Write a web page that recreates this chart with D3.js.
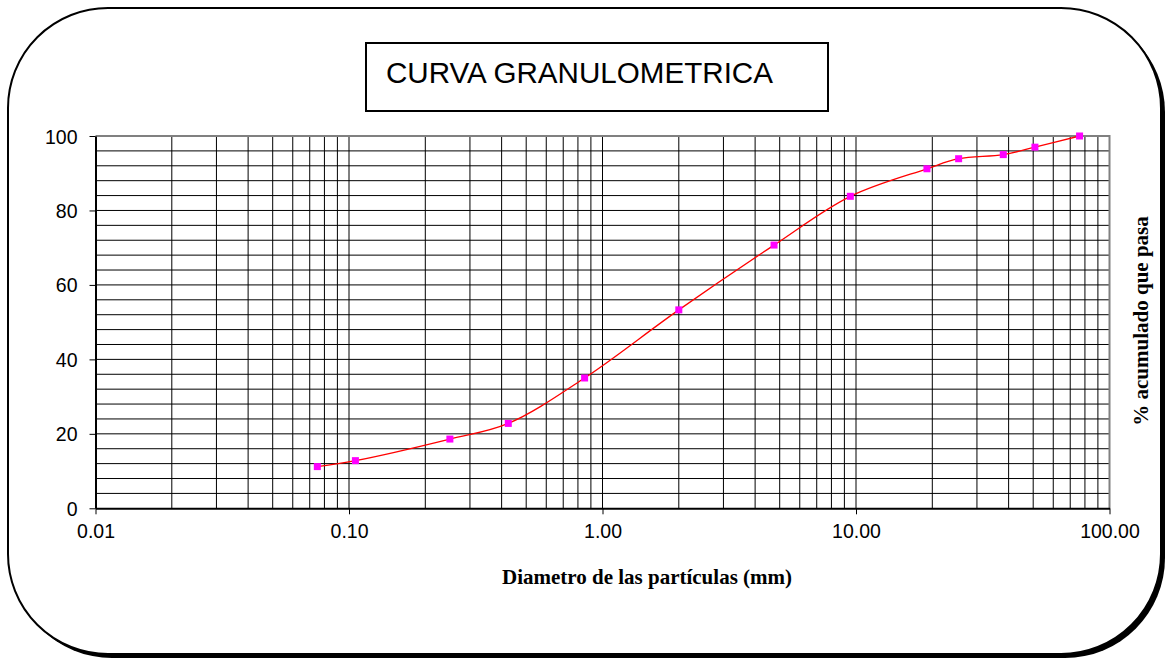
<!DOCTYPE html>
<html>
<head>
<meta charset="utf-8">
<script src="https://cdn.jsdelivr.net/npm/d3@7"></script>
<style>
  html, body { margin: 0; padding: 0; background: #fff; }
  svg { display: block; }
</style>
</head>
<body>
<div id="chart"></div>
<script>
// sieve openings (mm) and cumulative % passing
const sizes = [0.075, 0.106, 0.25, 0.425, 0.85, 2.0, 4.75, 9.5, 19.05, 25.4, 38.1, 50.8, 76.2];
const passing = [11.2, 12.8, 18.6, 22.8, 35.0, 53.3, 70.7, 83.8, 91.2, 93.9, 95.0, 97.0, 100];

const xTicks = [0.01, 0.1, 1, 10, 100];
const yTicks = [0, 20, 40, 60, 80, 100];

const title = "CURVA GRANULOMETRICA";
const xTitle = "Diametro de las partículas (mm)";
const yTitle = "% acumulado que pasa";

const width = 1169;
const height = 662;
const margin = { top: 136, right: 59.5, bottom: 153.7, left: 95.5 };

const svg = d3.select('#chart')
  .append('svg')
  .attr('width', width)
  .attr('height', height);

// rounded frame with shadow
svg.append('rect')
  .attr('x', 12).attr('y', 12)
  .attr('width', 1153).attr('height', 646)
  .attr('rx', 100).attr('ry', 100)
  .attr('fill', '#000');

svg.append('rect')
  .attr('x', 8).attr('y', 8)
  .attr('width', 1153).attr('height', 646)
  .attr('rx', 100).attr('ry', 100)
  .attr('fill', '#fff')
  .attr('stroke', '#000')
  .attr('stroke-width', 2);

const x = d3.scaleLog()
  .domain([0.01, 100])
  .range([margin.left, width - margin.right]);

const y = d3.scaleLinear()
  .domain([0, 100])
  .range([height - margin.bottom, margin.top]);

// gridlines
const vLines = [];
for (let d = 0.01; d < 100; d *= 10) {
  for (let k = 2; k <= 9; k++) vLines.push(+(d * k).toPrecision(3));
}
xTicks.slice(1, -1).forEach(t => vLines.push(t));

svg.append('g')
  .selectAll('line')
  .data(vLines)
  .join('line')
  .attr('x1', d => x(d)).attr('x2', d => x(d))
  .attr('y1', y(0)).attr('y2', y(100))
  .attr('stroke', '#000')
  .attr('stroke-width', 1);

svg.append('g')
  .selectAll('line')
  .data(d3.range(4, 100, 4))
  .join('line')
  .attr('x1', x(0.01)).attr('x2', x(100))
  .attr('y1', d => y(d)).attr('y2', d => y(d))
  .attr('stroke', '#000')
  .attr('stroke-width', 1);

// plot border top / right in gray
svg.append('path')
  .attr('d', `M${x(0.01)},${y(100)}H${x(100)}V${y(0)}`)
  .attr('fill', 'none')
  .attr('stroke', '#808080')
  .attr('stroke-width', 2);

// axes
const xAxis = svg.append('g')
  .attr('transform', `translate(0,${y(0)})`)
  .call(d3.axisBottom(x).tickValues(xTicks).tickFormat(d3.format('.2f')).tickSize(6).tickSizeOuter(0));

const yAxis = svg.append('g')
  .attr('transform', `translate(${x(0.01)},0)`)
  .call(d3.axisLeft(y).tickValues(yTicks).tickSize(6).tickSizeOuter(0));

[xAxis, yAxis].forEach(g => {
  g.select('.domain').attr('stroke', '#000').attr('stroke-width', 2);
  g.selectAll('.tick line').attr('stroke', '#000');
  g.selectAll('.tick text')
    .attr('fill', '#000')
    .style('font-family', 'Arial, "Liberation Sans", sans-serif')
    .style('font-size', '19.5px');
});
xAxis.selectAll('.tick text').attr('dy', '1.08em');
yAxis.selectAll('.tick text').attr('x', -18).attr('dy', '0.36em');

// curve
const pts = sizes.map((s, i) => [x(s), y(passing[i])]);

svg.append('path')
  .datum(pts)
  .attr('fill', 'none')
  .attr('stroke', '#ff0000')
  .attr('stroke-width', 1.3)
  .attr('d', d3.line().curve(d3.curveCatmullRom.alpha(0.5)));

svg.append('g')
  .selectAll('rect')
  .data(pts)
  .join('rect')
  .attr('x', d => d[0] - 3.5)
  .attr('y', d => d[1] - 3.5)
  .attr('width', 7)
  .attr('height', 7)
  .attr('fill', '#ff00ff');

// title box
svg.append('rect')
  .attr('x', 366).attr('y', 43)
  .attr('width', 462).attr('height', 68)
  .attr('fill', '#fff')
  .attr('stroke', '#000')
  .attr('stroke-width', 2);

svg.append('text')
  .attr('x', 386)
  .attr('y', 83)
  .style('font-family', 'Arial, "Liberation Sans", sans-serif')
  .style('font-size', '29.6px')
  .text(title);

// axis titles
svg.append('text')
  .attr('x', 647)
  .attr('y', 584)
  .attr('text-anchor', 'middle')
  .style('font-family', '"Times New Roman", "Liberation Serif", serif')
  .style('font-weight', 'bold')
  .style('font-size', '21px')
  .text(xTitle);

svg.append('text')
  .attr('transform', `translate(1148,321) rotate(-90)`)
  .attr('text-anchor', 'middle')
  .style('font-family', '"Times New Roman", "Liberation Serif", serif')
  .style('font-weight', 'bold')
  .style('font-size', '21px')
  .text(yTitle);
</script>
</body>
</html>
